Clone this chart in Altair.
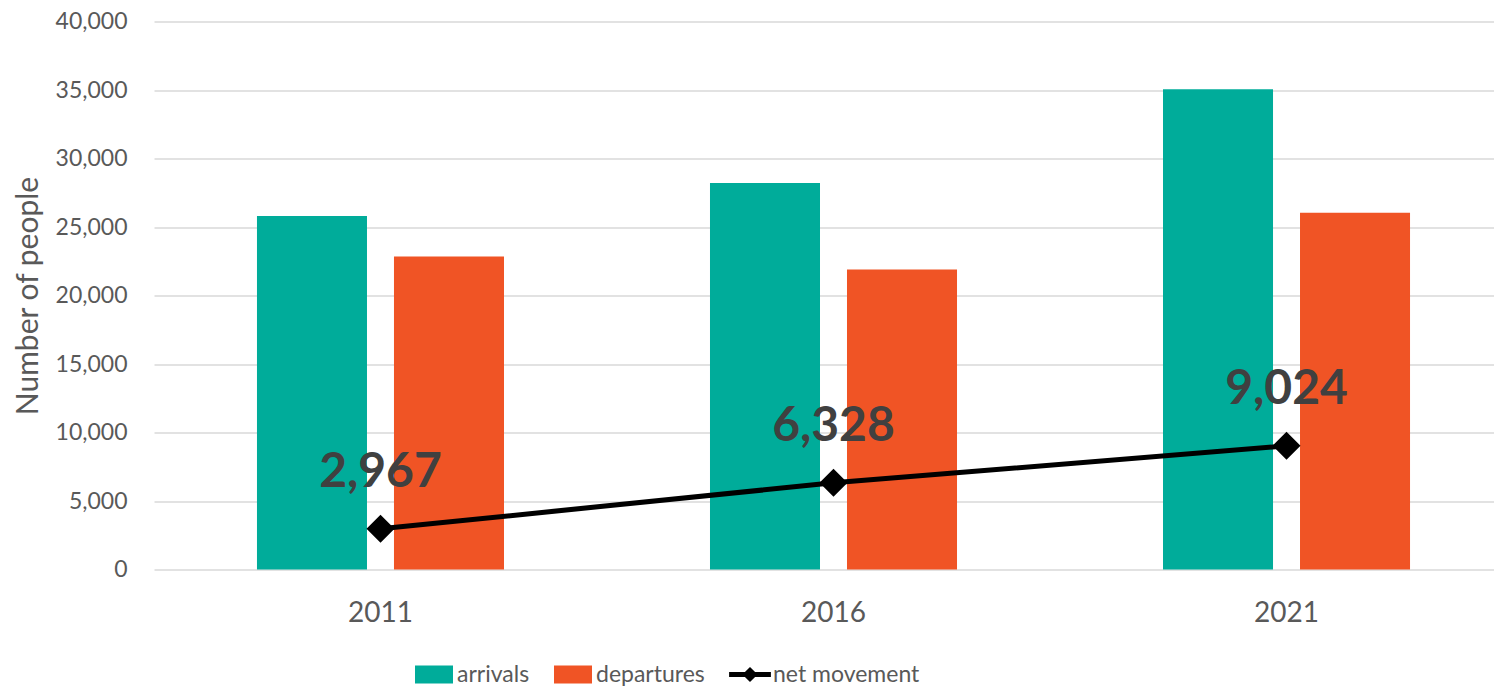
import altair as alt
import pandas as pd

years = ["2011", "2016", "2021"]
arrivals = [25810, 28220, 35060]
departures = [22843, 21892, 26036]
net_movement = [2967, 6328, 9024]
series_names = ["arrivals", "departures", "net movement"]
series_colors = ["#00AC9A", "#F05425", "#000000"]
y_ticks = [0, 5000, 10000, 15000, 20000, 25000, 30000, 35000, 40000]

bars_df = pd.DataFrame(
    [{"year": y, "series": "arrivals", "value": v} for y, v in zip(years, arrivals)]
    + [{"year": y, "series": "departures", "value": v} for y, v in zip(years, departures)]
)
net_df = pd.DataFrame({"year": years, "value": net_movement, "series": "net movement"})

FONT = "Lato"
GRAY = "#595959"

x_enc = alt.X(
    "year:N",
    sort=years,
    scale=alt.Scale(range=[0, 1359], paddingInner=0.4547, paddingOuter=0.2273),
    axis=alt.Axis(title=None, labelAngle=0, labelFontSize=28, labelColor=GRAY,
                  labelPadding=30, ticks=False, domain=False, labelFont=FONT),
)
y_enc = alt.Y(
    "value:Q",
    scale=alt.Scale(domain=[0, 40000], nice=False),
    axis=alt.Axis(title="Number of people", values=y_ticks, format=",.0f",
                  labelFontSize=23, labelColor=GRAY, labelPadding=27,
                  ticks=False, domain=False, gridColor="#D9D9D9", gridWidth=1.5,
                  titleFontSize=30, titleFontWeight="normal", titleColor=GRAY,
                  titlePadding=12, labelFont=FONT, titleFont=FONT),
)

legend_shape = (
    "datum.value == 'net movement' ? "
    "'M-1.1,-0.13L1.1,-0.13L1.1,0.13L-1.1,0.13Z M-0.4,0L0,-0.4L0.4,0L0,0.4Z' : "
    "'M-1,-0.47L1,-0.47L1,0.47L-1,0.47Z'"
)

color_scale = alt.Scale(domain=series_names, range=series_colors)
color_legend = alt.Legend(
    title=None, orient="none", legendX=261, legendY=634, direction="horizontal",
    labelFontSize=23, labelColor=GRAY, labelFont=FONT, labelOffset=4,
    columnPadding=24, symbolSize=1444, symbolStrokeWidth=0, symbolOpacity=1,
    symbolType={"expr": legend_shape},
)

bars = alt.Chart(bars_df).mark_bar().encode(
    x=x_enc,
    xOffset=alt.XOffset("series:N", sort=["arrivals", "departures"],
                        scale=alt.Scale(paddingInner=0.197, paddingOuter=0)),
    y=y_enc,
    color=alt.Color("series:N", scale=color_scale, legend=color_legend),
)

line = alt.Chart(net_df).mark_line(color="#000000", strokeWidth=5).encode(
    x=alt.X("year:N", sort=years), y="value:Q"
)
points = alt.Chart(net_df).mark_point(shape="diamond", filled=True, size=784, opacity=1).encode(
    x=alt.X("year:N", sort=years), y="value:Q",
    color=alt.Color("series:N", scale=color_scale, legend=color_legend),
)
labels = alt.Chart(net_df).mark_text(
    dy=-42, baseline="alphabetic", align="center", fontSize=48, fontWeight="bold",
    color="#404040", font=FONT,
).encode(
    x=alt.X("year:N", sort=years), y="value:Q", text=alt.Text("value:Q", format=",")
)

chart = (
    alt.layer(bars, line, points, labels)
    .properties(
        width=1340, height=548,
        autosize=alt.AutoSizeParams(type="none"),
        padding={"left": 146, "top": 13.5, "right": 0, "bottom": 117.5},
    )
    .configure(font=FONT)
    .configure_view(stroke=None)
)

chart.save("out.html", embed_options={"renderer": "svg", "actions": False})
